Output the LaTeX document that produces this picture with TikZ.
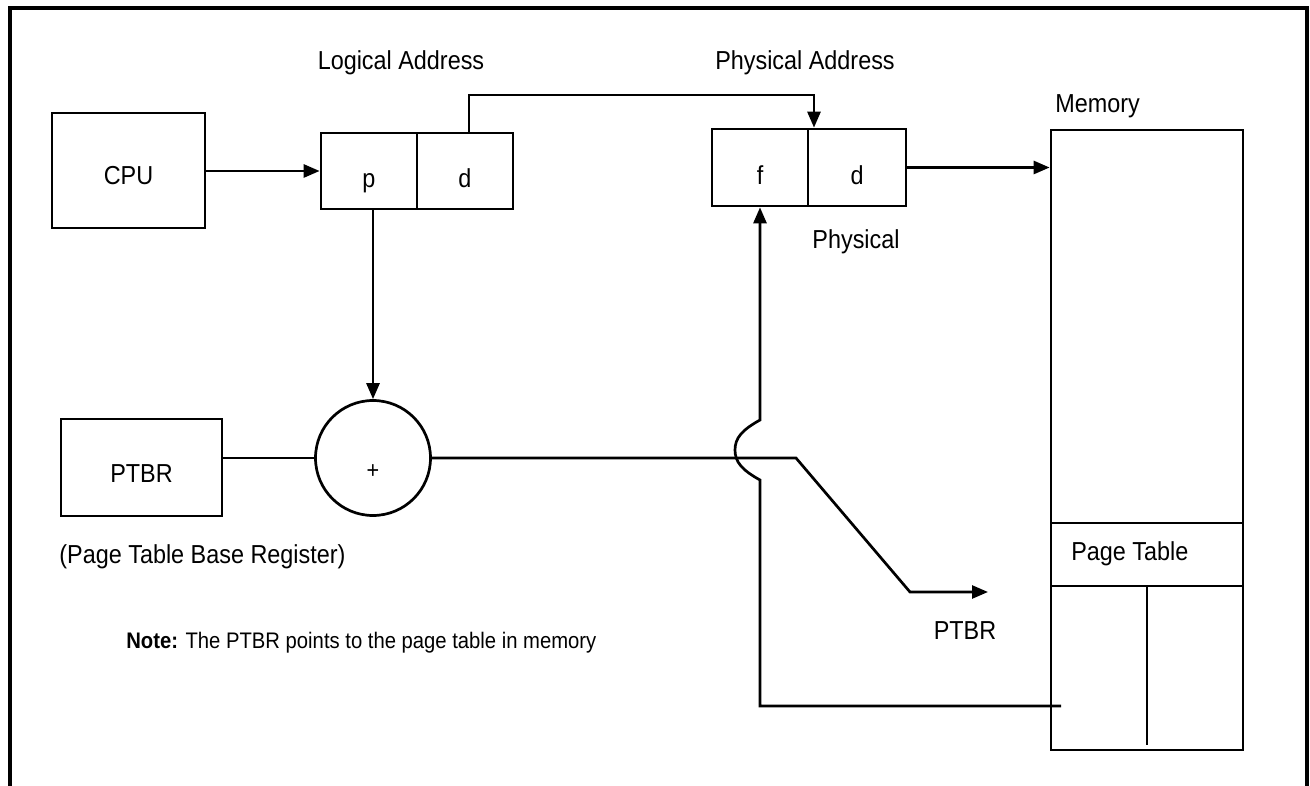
\documentclass[tikz,border=0pt]{standalone}
\usepackage{fontspec}
\setmainfont[FakeStretch=0.9]{Liberation Sans}
\usetikzlibrary{arrows.meta}

\begin{document}
\begin{tikzpicture}[x=1pt, y=-1pt,
  line width=2.7pt,
  box/.style={draw, rectangle, inner sep=0pt},
  lbl/.style={font=\fontsize{26}{30}\selectfont, inner sep=0pt},
  notelbl/.style={font=\fontsize{22.5}{27}\selectfont, inner sep=0pt},
  plus/.style={font=\fontsize{24}{26}\selectfont, inner sep=0pt},
  arr/.style={-{Triangle[length=16pt,width=13pt]}}
]
\useasboundingbox (0,0) rectangle (1310,786);

% outer frame, open at the bottom
\draw[line width=3.2pt] (10,786) -- (10,8) -- (1307,8) -- (1307,786);

% boxes
\node[box, minimum width=153pt, minimum height=115pt] (cpu) at (128.5,170.5) {};
\node[box, minimum width=96pt, minimum height=76pt] (p) at (369,171) {};
\node[box, minimum width=96pt, minimum height=76pt] (d) at (465,171) {};
\node[box, minimum width=96pt, minimum height=77pt] (pf) at (760,167.5) {};
\node[box, minimum width=98pt, minimum height=77pt] (pd) at (857,167.5) {};
\node[box, minimum width=192pt, minimum height=620pt] (mem) at (1147,440) {};
\node[box, minimum width=192pt, minimum height=63pt] (ptab) at (1147,554.5) {};
\node[box, minimum width=161pt, minimum height=97pt] (ptbr) at (141.5,467.5) {};
\node[draw, circle, inner sep=0pt, minimum size=115pt] (sum) at (373,458) {};

% texts inside boxes
\node[lbl, anchor=base] at ([yshift=-14.5pt]cpu.center) {CPU};
\node[lbl, anchor=base] at ([yshift=-17pt]p.center) {p};
\node[lbl, anchor=base] at ([yshift=-17pt]d.center) {d};
\node[lbl, anchor=base] at ([yshift=-17pt]pf.center) {f};
\node[lbl, anchor=base] at ([yshift=-17pt]pd.center) {d};
\node[lbl, anchor=base] at ([yshift=-15pt]ptbr.center) {PTBR};
\node[plus, anchor=base] at ([yshift=-20pt]sum.center) {+};
\node[lbl, anchor=base west] at (1070,560) {Page Table};

% free labels
\node[lbl, anchor=base] (la) at (401,70) {Logical Address};
\node[lbl, anchor=base] (pa) at (805,70) {Physical Address};
\node[lbl, anchor=base west] (memlbl) at (1054,113) {Memory};
\node[lbl, anchor=base] (phys) at (856,249) {Physical};
\node[lbl, anchor=base west] (ptbrfull) at (58,563) {(Page Table Base Register)};
\node[lbl, anchor=base] (ptbrout) at (965,639) {PTBR};
\node[notelbl, anchor=base west] (note) at (125,648) {\textbf{Note:} The PTBR points to the page table in memory};

% helper points
\coordinate (dtop) at (469,95);
\coordinate (ptop) at (814,95);
\coordinate (bend1) at (796,458);
\coordinate (bend2) at (910,592);
\coordinate (ptbrend) at (988,592);
\coordinate (ptentry) at (1061,706);
\coordinate (ptcol) at (1147,745);

% page table column divider
\draw (ptab.south) -- (ptcol);

% connectors
\draw[arr] (cpu.east |- p.west) -- (p.west);
\draw[arr] (dtop |- d.north) -- (dtop) -- (ptop) -- (ptop |- pf.north);
\draw[arr] (pd.east) -- (pd.east -| mem.west);
\draw[arr] (sum.north |- p.south) -- (sum.north);
\draw (ptbr.east |- sum.west) -- (sum.west);
\draw[arr] (sum.east) -- (bend1) -- (bend2) -- (ptbrend);
\draw[arr] (ptentry) -- (ptentry -| pf.south) -- (760,480)
  .. controls (742,470) and (735,462) .. (735,450)
  .. controls (735,438) and (742,430) .. (760,420) -- (pf.south);
\end{tikzpicture}
\end{document}
